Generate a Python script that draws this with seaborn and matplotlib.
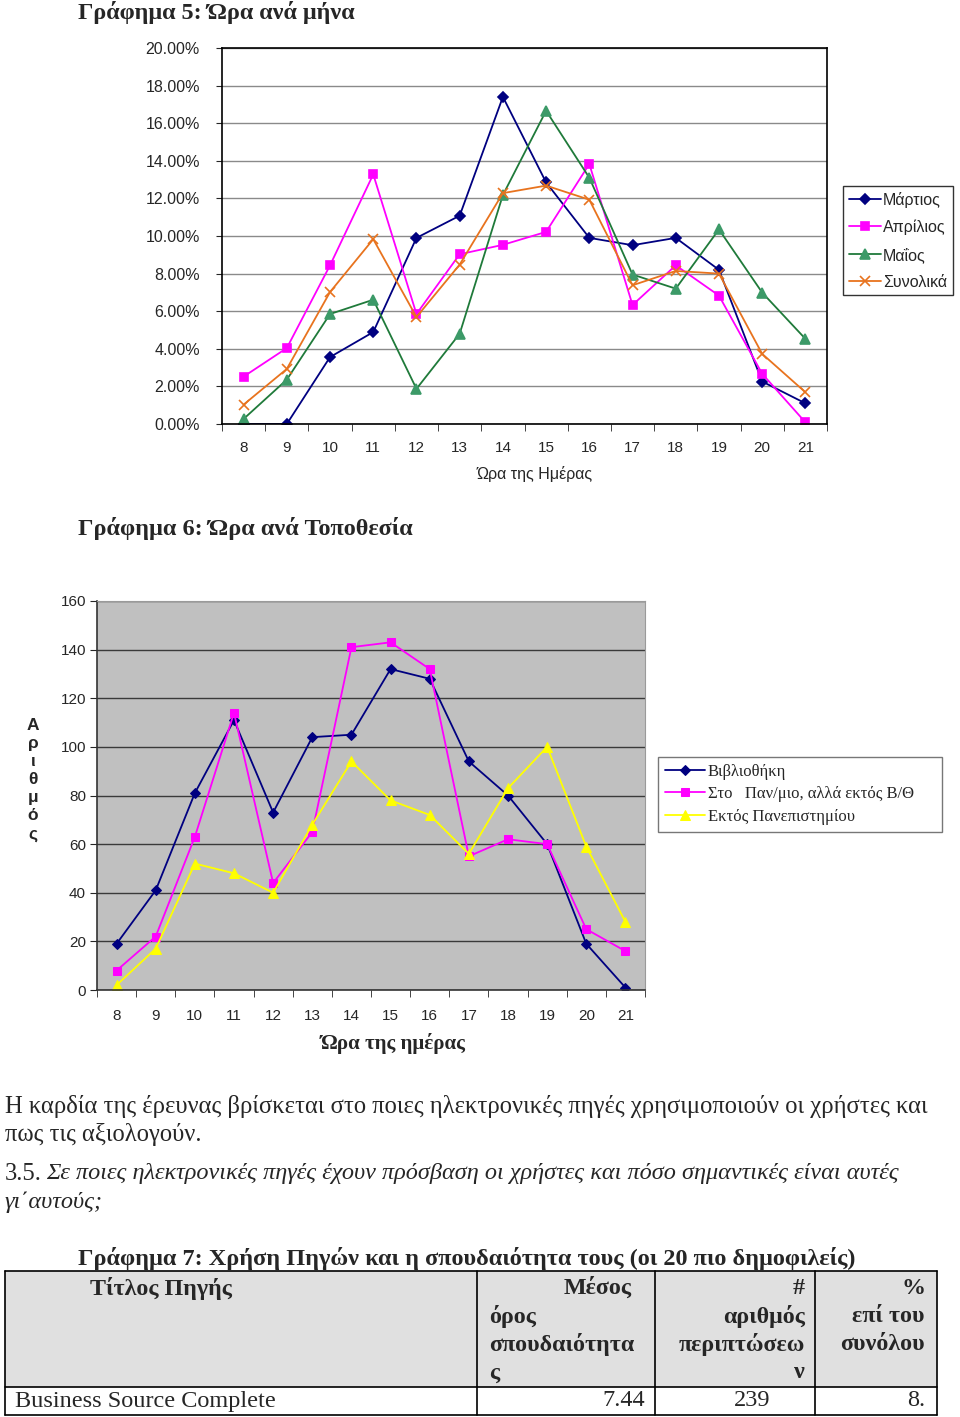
import matplotlib
matplotlib.use("Agg")
import matplotlib.pyplot as plt
import matplotlib.ticker as mticker
from matplotlib.patches import Rectangle
import seaborn as sns

# --- data ---
hours = list(range(8, 22))

# Γράφημα 5: % per month
march = [0.0, 0.0, 3.56, 4.89, 9.9, 11.08, 17.4, 12.85, 9.9, 9.51, 9.9, 8.2, 2.26, 1.1]
april = [2.52, 4.04, 8.44, 13.28, 5.85, 9.03, 9.53, 10.22, 13.83, 6.33, 8.44, 6.83, 2.67, 0.09]
may = [0.27, 2.36, 5.85, 6.61, 1.87, 4.8, 12.18, 16.66, 13.1, 7.95, 7.2, 10.35, 6.99, 4.53]
total = [1.03, 2.93, 7.02, 9.83, 5.69, 8.48, 12.28, 12.68, 11.93, 7.38, 8.14, 8.0, 3.73, 1.69]
month_labels = ["Μάρτιος", "Απρίλιος", "Μαΐος", "Συνολικά"]

# Γράφημα 6: counts per location
library = [19, 41, 81, 111, 73, 104, 105, 132, 128, 94, 80, 60, 19, 1]
campus = [8, 22, 63, 114, 44, 65, 141, 143, 132, 55, 62, 60, 25, 16]
outside = [2, 17, 52, 48, 40, 68, 94, 78, 72, 56, 83, 100, 59, 28]
place_labels = ["Βιβλιοθήκη", "Στο   Παν/μιο, αλλά εκτός Β/Θ", "Εκτός Πανεπιστημίου"]

# Γράφημα 7 table
table_header = ["Τίτλος Πηγής", "Μέσος όρος σπουδαιότητας", "# αριθμός περιπτώσεων", "% επί του συνόλου"]
table_row = ["Business Source Complete", "7.44", "239", "8."]

W, H = 960, 1417
SERIF = ['Liberation Serif', 'DejaVu Serif']

sns.set_style("ticks")
plt.rcParams['font.family'] = ['Liberation Sans', 'DejaVu Sans']


def rect(l, t, r, b):
    return [l / W, 1 - b / H, (r - l) / W, (b - t) / H]


def ftext(x, y, s, **kw):
    fig.text(x / W, 1 - y / H, s, **kw)


fig = plt.figure(figsize=(9.6, 14.17), dpi=100)

# ---------------- Chart 1 ----------------
ftext(78, 12, "Γράφημα 5: Ώρα ανά μήνα", family=SERIF, fontweight='bold',
      fontsize=17.4, va='center', ha='left')

ax1 = fig.add_axes(rect(222, 48, 827, 424))
series1 = [
    (march, "#000080", "D", "#000080", 5.5),
    (april, "#FF00FF", "s", "#FF00FF", 6),
    (may, "#1F7A3A", "^", "#3C9A68", 7),
    (total, "#E8731E", "x", "#E8731E", 7),
]
for (vals, col, mk, mfc, ms), lab in zip(series1, month_labels):
    sns.lineplot(x=hours, y=vals, ax=ax1, color=col, marker=mk, markersize=ms,
                 markerfacecolor=mfc, markeredgecolor=mfc, markeredgewidth=1.2,
                 linewidth=1.3, label=lab, legend=False)

ax1.set_xlim(7.5, 21.5)
ax1.set_ylim(0, 20)
ax1.set_yticks(list(range(0, 21, 2)))
ax1.yaxis.set_major_formatter(mticker.FuncFormatter(lambda v, p: f"{v:.2f}%"))
ax1.set_xticks(hours)
ax1.set_xticks([h - 0.5 for h in hours] + [21.5], minor=True)
ax1.tick_params(axis='x', which='major', length=0, pad=12, labelsize=11)
ax1.tick_params(axis='x', which='minor', length=5, direction='out', bottom=True)
ax1.tick_params(axis='y', length=4, labelsize=11.5, pad=12)
ax1.grid(axis='y', color='#8a8a8a', lw=1)
for sp in ax1.spines.values():
    sp.set_visible(True)
    sp.set_color('black')
    sp.set_linewidth(1.2)
ax1.set_xlabel("")
ax1.set_ylabel("")
if ax1.get_legend():
    ax1.get_legend().remove()
ftext(535, 474, "Ώρα της Ημέρας", fontsize=11.5, ha='center', va='center')

h1, l1 = ax1.get_legend_handles_labels()
fig.legend(h1, l1, loc='upper left', bbox_to_anchor=(843 / W, 1 - 186 / H),
           frameon=True, fancybox=False, edgecolor='black', fontsize=11.5,
           handlelength=2.0, handletextpad=0.15, labelspacing=0.75,
           borderpad=0.35, borderaxespad=0)

# ---------------- Chart 2 ----------------
ftext(78, 528, "Γράφημα 6: Ώρα ανά Τοποθεσία", family=SERIF, fontweight='bold',
      fontsize=17.5, va='center', ha='left')

ax2 = fig.add_axes(rect(97, 601, 645, 990))
ax2.set_facecolor('#C0C0C0')
series2 = [
    (library, "#000080", "D", 5.5),
    (campus, "#FF00FF", "s", 6),
    (outside, "#FFFF00", "^", 7),
]
for (vals, col, mk, ms), lab in zip(series2, place_labels):
    sns.lineplot(x=hours, y=vals, ax=ax2, color=col, marker=mk, markersize=ms,
                 markerfacecolor=col, markeredgecolor=col, linewidth=1.3,
                 label=lab, legend=False)

ax2.set_xlim(7.5, 21.5)
ax2.set_ylim(0, 160)
ax2.set_yticks(list(range(0, 161, 20)))
ax2.set_xticks(hours)
ax2.set_xticks([h - 0.5 for h in hours] + [21.5], minor=True)
ax2.tick_params(axis='x', which='major', length=0, pad=14, labelsize=11)
ax2.tick_params(axis='x', which='minor', length=5, direction='out', bottom=True)
ax2.tick_params(axis='y', length=5, labelsize=11, pad=3)
ax2.grid(axis='y', color='#3a3a3a', lw=1)
ax2.set_axisbelow(True)
for side in ['left', 'bottom']:
    ax2.spines[side].set_color('#333333')
    ax2.spines[side].set_linewidth(1.2)
for side in ['top', 'right']:
    ax2.spines[side].set_visible(True)
    ax2.spines[side].set_color('#9a9a9a')
ax2.set_xlabel("")
ax2.set_ylabel("")
if ax2.get_legend():
    ax2.get_legend().remove()

ftext(33, 780, "Α\nρ\nι\nθ\nμ\nό\nς", fontsize=12.5, fontweight='bold',
      ha='center', va='center', linespacing=1.25)
ftext(393, 1044, "Ώρα της ημέρας", family=SERIF, fontweight='bold',
      fontsize=15, ha='center', va='center')

h2, l2 = ax2.get_legend_handles_labels()
fig.legend(h2, l2, loc='upper left',
           bbox_to_anchor=(658 / W, 1 - 834 / H, 284 / W, 77 / H), mode='expand',
           frameon=True, fancybox=False, edgecolor='#555555',
           prop={'family': SERIF, 'size': 12},
           handlelength=2.4, handletextpad=0.2, labelspacing=0.4,
           borderpad=0.4, borderaxespad=0)

# ---------------- body text ----------------
BODY = 17.7
ITAL = 17.5
ftext(5, 1106, "Η καρδία της έρευνας βρίσκεται στο ποιες ηλεκτρονικές πηγές χρησιμοποιούν οι χρήστες και",
      family=SERIF, fontsize=BODY, va='center')
ftext(5, 1134, "πως τις αξιολογούν.", family=SERIF, fontsize=BODY, va='center')
ftext(5, 1174, "3.5.", family=SERIF, fontsize=BODY, va='center')
ftext(46, 1174, "Σε ποιες ηλεκτρονικές πηγές έχουν πρόσβαση οι χρήστες και πόσο σημαντικές είναι αυτές",
      family=SERIF, fontsize=ITAL, va='center', style='italic')
ftext(5, 1202, "γι΄αυτούς;", family=SERIF, fontsize=ITAL, va='center', style='italic')

# ---------------- table ----------------
ftext(78, 1258, "Γράφημα 7: Χρήση Πηγών και η σπουδαιότητα τους (οι 20 πιο δημοφιλείς)",
      family=SERIF, fontweight='bold', fontsize=17.5, va='center')

cols = [5, 477, 655, 815, 937]
rows = [1271, 1387, 1415]
fig.patches.append(Rectangle((cols[0] / W, 1 - rows[1] / H), (cols[-1] - cols[0]) / W,
                             (rows[1] - rows[0]) / H, transform=fig.transFigure,
                             facecolor='#E0E0E0', edgecolor='none', zorder=0))
for x in cols:
    fig.add_artist(plt.Line2D([x / W, x / W], [1 - rows[0] / H, 1 - rows[-1] / H],
                              transform=fig.transFigure, color='black', lw=1.2))
for y in rows:
    fig.add_artist(plt.Line2D([cols[0] / W, cols[-1] / W], [1 - y / H, 1 - y / H],
                              transform=fig.transFigure, color='black', lw=1.2))

hkw = dict(family=SERIF, fontweight='bold', fontsize=17.3, va='center')
ftext(90, 1288, table_header[0], ha='left', **hkw)
ftext(632, 1288, "Μέσος", ha='right', **hkw)
ftext(489, 1316, "όρος", ha='left', **hkw)
ftext(489, 1344, "σπουδαιότητα", ha='left', **hkw)
ftext(489, 1373, "ς", ha='left', **hkw)
ftext(805, 1288, "#", ha='right', **hkw)
ftext(805, 1316, "αριθμός", ha='right', **hkw)
ftext(805, 1344, "περιπτώσεω", ha='right', **hkw)
ftext(805, 1373, "ν", ha='right', **hkw)
ftext(925, 1288, "%", ha='right', **hkw)
ftext(925, 1316, "επί του", ha='right', **hkw)
ftext(925, 1344, "συνόλου", ha='right', **hkw)

rkw = dict(family=SERIF, fontsize=17.5, va='center')
ftext(15, 1401, table_row[0], ha='left', **rkw)
ftext(645, 1401, table_row[1], ha='right', **rkw)
ftext(752, 1401, table_row[2], ha='center', **rkw)
ftext(925, 1401, table_row[3], ha='right', **rkw)

fig.savefig("out.png", dpi=100)
